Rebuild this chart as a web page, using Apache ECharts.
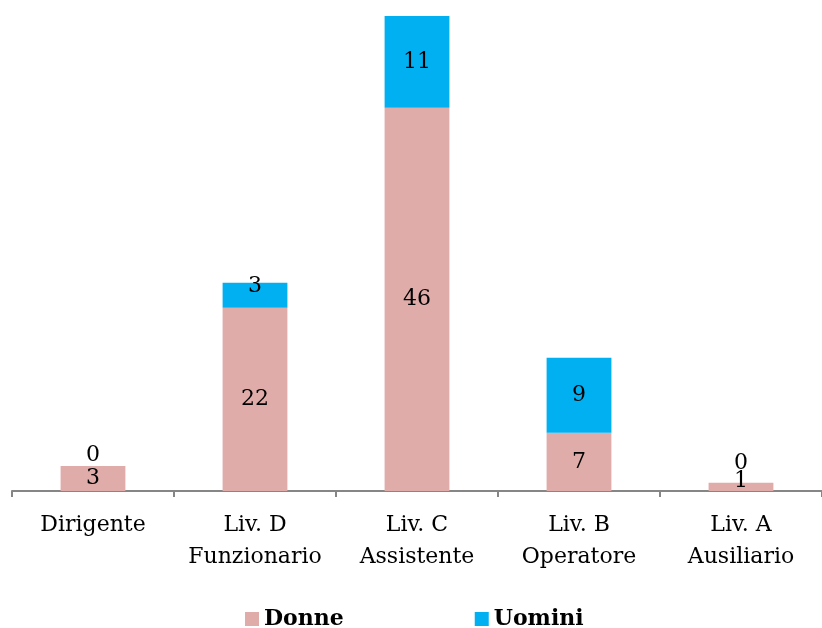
<!DOCTYPE html>
<html>
<head>
<meta charset="utf-8">
<script src="https://cdn.jsdelivr.net/npm/echarts@6/dist/echarts.min.js"></script>
<style>
  html, body { margin: 0; padding: 0; background: #fff; }
  #chart { width: 822px; height: 628px; }
</style>
</head>
<body>
<div id="chart"></div>
<script>
  const categories = ['Dirigente', 'Liv. D\nFunzionario', 'Liv. C\nAssistente', 'Liv. B\nOperatore', 'Liv. A\nAusiliario']
  const donne = [3, 22, 46, 7, 1]
  const uomini = [0, 3, 11, 9, 0]

  const font = '"DejaVu Serif", "Liberation Serif", serif'

  // piccoli aggiustamenti delle etichette come nell'originale
  const donneData = donne.map((v, i) => {
    if (i === 4) return { value: v, label: { offset: [0, -6] } }
    return v
  })
  const uominiData = uomini.map((v, i) => {
    if (v === 0) {
      return { value: v, label: { position: 'top', distance: 0, offset: [0, i === 4 ? -8 : 0] } }
    }
    if (i === 1) return { value: v, label: { offset: [0, -9] } }
    return v
  })

  const chart = echarts.init(document.getElementById('chart'))
  chart.setOption({
    animation: false,
    textStyle: { fontFamily: font },
    legend: {
      data: ['Donne', 'Uomini'],
      left: 240,
      top: 603,
      itemWidth: 14,
      itemHeight: 14,
      itemGap: 131,
      icon: 'rect',
      textStyle: { fontFamily: font, fontSize: 22, fontWeight: 'bold', color: '#000' },
    },
    grid: {
      left: 12,
      top: 16,
      width: 815,
      height: 475,
      containLabel: false,
    },
    xAxis: {
      type: 'category',
      data: categories,
      axisLine: { lineStyle: { color: '#868686', width: 2 } },
      axisTick: { show: true, interval: 0, length: 6, lineStyle: { color: '#868686', width: 2 } },
      axisLabel: {
        interval: 0,
        hideOverlap: false,
        fontFamily: font,
        fontSize: 22,
        color: '#000',
        lineHeight: 32,
        margin: 18,
      },
    },
    yAxis: {
      type: 'value',
      min: 0,
      max: 57,
      show: false,
      splitLine: { show: false },
    },
    series: [
      {
        name: 'Donne',
        type: 'bar',
        stack: 'tot',
        barWidth: '40%',
        itemStyle: { color: '#DFACA9' },
        label: { show: true, position: 'inside', fontFamily: font, fontSize: 22, color: '#000' },
        data: donneData,
      },
      {
        name: 'Uomini',
        type: 'bar',
        stack: 'tot',
        barWidth: '40%',
        itemStyle: { color: '#00B0F0' },
        label: { show: true, position: 'inside', fontFamily: font, fontSize: 22, color: '#000' },
        data: uominiData,
      },
    ],
  })
</script>
</body>
</html>
